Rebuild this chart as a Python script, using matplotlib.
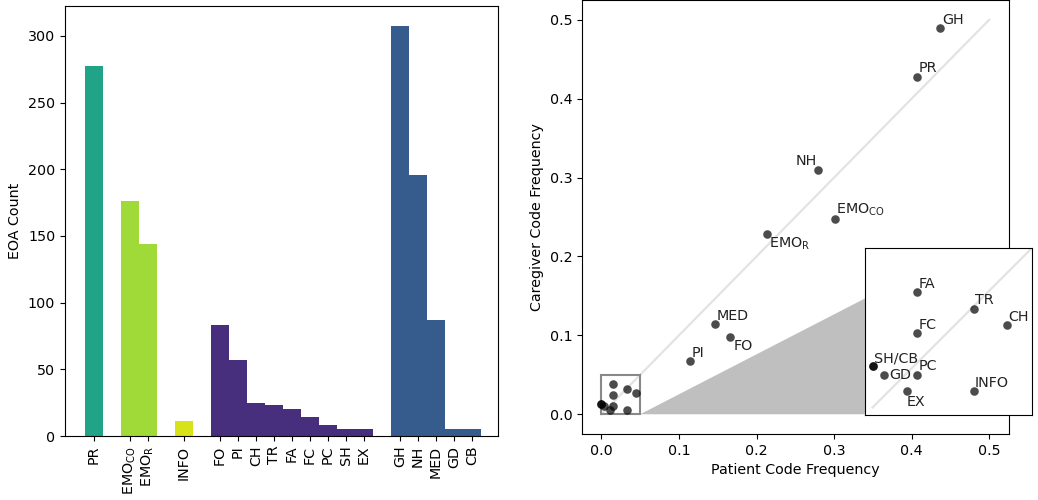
import matplotlib
matplotlib.use('Agg')
import matplotlib.pyplot as plt
from matplotlib.patches import Rectangle, Polygon

# bar chart data
bar_codes = ['PR', r'EMO$_{\mathrm{CO}}$', r'EMO$_{\mathrm{R}}$', 'INFO',
             'FO', 'PI', 'CH', 'TR', 'FA', 'FC', 'PC', 'SH', 'EX',
             'GH', 'NH', 'MED', 'GD', 'CB']
bar_pos = [0, 2, 3, 5, 7, 8, 9, 10, 11, 12, 13, 14, 15, 17, 18, 19, 20, 21]
eoa_count = [277, 176, 144, 11, 83, 57, 25, 23, 20, 14, 8, 5, 5, 307, 196, 87, 5, 5]
bar_colors = (['#20a386'] + ['#a0da39'] * 2 + ['#d8e219'] + ['#472f7d'] * 9
              + ['#365c8d'] * 5)

# scatter data
codes = ['PR', 'EMO_CO', 'EMO_R', 'INFO', 'FO', 'PI', 'CH', 'TR', 'FA', 'FC',
         'PC', 'SH', 'EX', 'GH', 'NH', 'MED', 'GD', 'CB']
patient_freq = [0.407, 0.301, 0.213, 0.0333, 0.1655, 0.114, 0.0443, 0.0333, 0.0147,
                0.0147, 0.0147, 0.0, 0.0112, 0.437, 0.279, 0.147, 0.0038, 0.0]
caregiver_freq = [0.428, 0.247, 0.228, 0.0054, 0.0975, 0.0675, 0.0271, 0.0325, 0.0379,
                  0.0244, 0.0108, 0.0135, 0.0054, 0.489, 0.309, 0.114, 0.0108, 0.0135]

main_labels = {'GH': 'GH', 'PR': 'PR', 'NH': 'NH', 'EMO_CO': r'EMO$_{\mathrm{CO}}$',
               'EMO_R': r'EMO$_{\mathrm{R}}$', 'MED': 'MED', 'FO': 'FO', 'PI': 'PI'}
inset_labels = {'FA': 'FA', 'TR': 'TR', 'CH': 'CH', 'FC': 'FC', 'SH': 'SH/CB',
                'GD': 'GD', 'PC': 'PC', 'EX': 'EX', 'INFO': 'INFO'}
# (dx, dy, ha, va) in points
label_place = {'NH': (-1, 2, 'right', 'bottom'), 'EMO_R': (2, -1, 'left', 'top'),
               'FO': (3, -1, 'left', 'top'), 'EX': (0, -3, 'left', 'top'),
               'GD': (4, 0, 'left', 'center')}

fig = plt.figure(figsize=(10.38, 5), dpi=100)

ax1 = fig.add_axes([0.0626, 0.128, 0.4171, 0.86])
ax1.bar(bar_pos, eoa_count, width=1, color=bar_colors)
ax1.set_xticks(bar_pos)
ax1.set_xticklabels(bar_codes, rotation=90, fontsize=10.3)
ax1.tick_params(axis='y', labelsize=10.3)
ax1.set_ylabel('EOA Count', fontsize=10.3)
ax1.set_xlim(-1.6, 22.45)


def draw_points(ax, names):
    ax.plot([0, 0.5], [0, 0.5], color='#e3e3e3', lw=1.6, zorder=1)
    ax.scatter(patient_freq, caregiver_freq, s=38, color='black', alpha=0.7,
               linewidths=0, zorder=3)
    for i, c in enumerate(codes):
        if c not in names:
            continue
        dx, dy, ha, va = label_place.get(c, (1, 1, 'left', 'bottom'))
        ax.annotate(names[c], (patient_freq[i], caregiver_freq[i]),
                    xytext=(dx, dy), textcoords='offset points',
                    ha=ha, va=va, fontsize=10.3, color='#222222', zorder=4)


ax2 = fig.add_axes([0.5607, 0.132, 0.411, 0.868])
draw_points(ax2, main_labels)
ax2.set_xlim(-0.025, 0.525)
ax2.set_ylim(-0.025, 0.525)
ax2.set_xticks([0, 0.1, 0.2, 0.3, 0.4, 0.5])
ax2.set_yticks([0, 0.1, 0.2, 0.3, 0.4, 0.5])
ax2.tick_params(labelsize=10.3)
ax2.set_xlabel('Patient Code Frequency', fontsize=10.3)
ax2.set_ylabel('Caregiver Code Frequency', fontsize=10.3)
ax2.add_patch(Polygon([(0.05, 0), (0.45, 0.2026), (0.45, 0)], closed=True,
                      facecolor='#bfbfbf', edgecolor='none', zorder=0))
ax2.add_patch(Rectangle((0, 0), 0.05, 0.05, fill=False, edgecolor='#888888',
                        lw=1.5, zorder=2))

ax3 = fig.add_axes([0.8333, 0.17, 0.1609, 0.334])
draw_points(ax3, inset_labels)
ax3.set_xlim(-0.0025, 0.0525)
ax3.set_ylim(-0.0025, 0.0525)
ax3.set_xticks([])
ax3.set_yticks([])

fig.savefig('out.png', dpi=100)
